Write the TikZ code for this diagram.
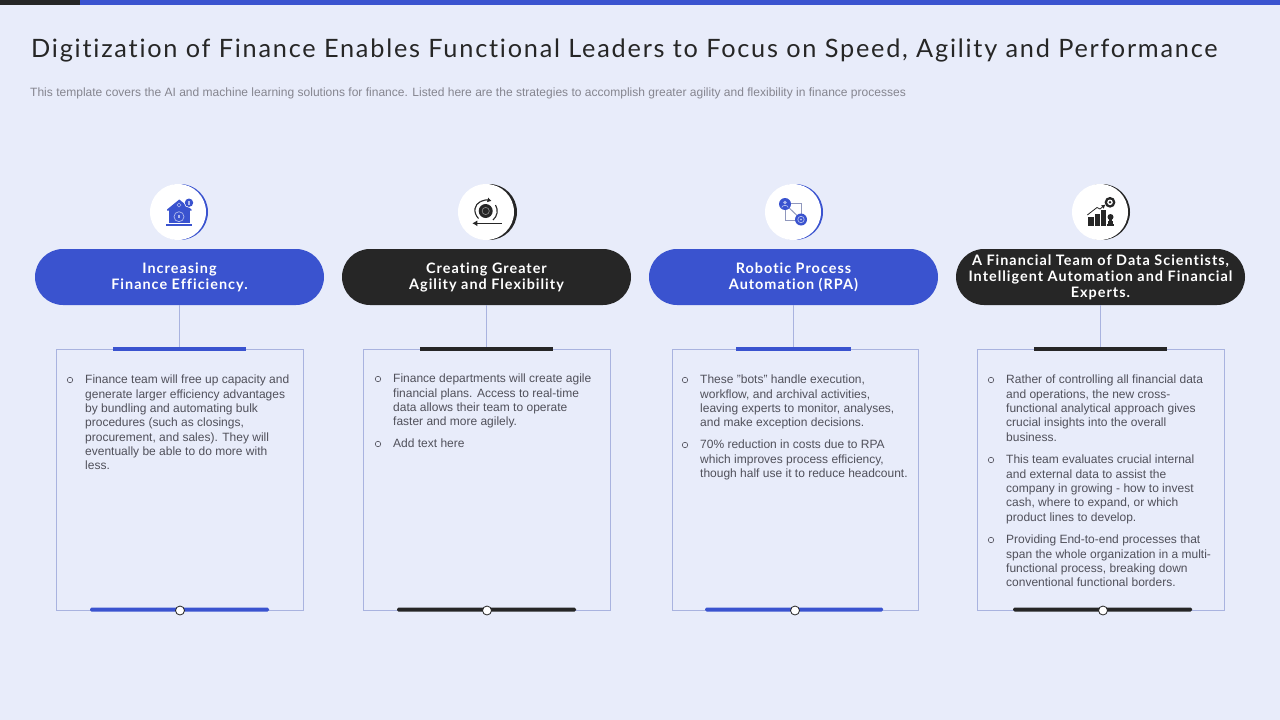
\documentclass[tikz,border=0pt]{standalone}
\usepackage{fontspec}
\setmainfont{Liberation Sans}
\newfontfamily\titlefont[LetterSpace=7,Ligatures=NoCommon]{Lato}
\newfontfamily\headfont[LetterSpace=7,Ligatures=NoCommon]{Lato Bold}
\definecolor{bgc}{HTML}{E8ECFA}
\definecolor{bluec}{HTML}{3A53CF}
\definecolor{darkc}{HTML}{262626}
\definecolor{linec}{HTML}{A9B3DF}
\definecolor{textc}{HTML}{50505A}
\definecolor{subc}{HTML}{85858F}
\usetikzlibrary{arrows.meta}
\tikzset{x=1pt,y=-1pt,
 pill/.style={rounded corners=28pt,minimum width=289pt,minimum height=56pt,inner sep=0pt,align=center,text=white,
   font=\headfont\fontsize{14.4}{16}\selectfont},
 card/.style={draw=linec,line width=.7pt,fill=none,inner sep=0pt,anchor=north west},
 conn/.style={draw=linec,line width=.8pt},
 bar/.style={inner sep=0pt,minimum height=4pt},
 knob/.style={circle,draw=darkc,fill=white,line width=.8pt,minimum size=9pt,inner sep=0pt},
 bodytxt/.style={inner sep=0pt,anchor=north west,align=left,text=textc,font=\fontsize{12}{14.3}\selectfont},
 bul/.style={circle,draw=textc,line width=.6pt,minimum size=5.5pt,inner sep=0pt},
 disc/.style={circle,fill=white,minimum size=56pt,inner sep=0pt},
 disb/.style={circle,minimum size=56pt,inner sep=0pt},
}
\begin{document}
\begin{tikzpicture}
\useasboundingbox (0,0) rectangle (1280,720);
\fill[bgc] (0,0) rectangle (1280,720);
\fill[bluec] (80,0) rectangle (1280,5);
\fill[darkc] (0,0) rectangle (80,5);
\node[anchor=base west,inner sep=0pt,text=darkc,font=\titlefont\fontsize{25.3}{28}\selectfont] (title) at (31,57) {Digitization of Finance Enables Functional Leaders to Focus on Speed, Agility and Performance};
\node[anchor=base west,inner sep=0pt,text=subc,font=\fontsize{12.03}{14}\selectfont] (sub) at (30,96) {This template covers the AI  and machine learning solutions for finance. Listed here are the strategies to accomplish greater agility and flexibility in finance processes};

% discs
\node[disb,fill=bluec] (d1b) at (180,212) {}; \node[disc] (d1) at (178,212) {};
\node[disb,fill=darkc] (d2b) at (489,212) {}; \node[disc] (d2) at (486,212) {};
\node[disb,fill=bluec] (d3b) at (795,212) {}; \node[disc] (d3) at (793,212) {};
\node[disb,fill=darkc] (d4b) at (1102,212) {}; \node[disc] (d4) at (1100,212) {};

% pills
\node[pill,fill=bluec] (p1) at (179.5,277) {\raisebox{-1pt}{\parbox{280pt}{\centering Increasing\\Finance Efficiency.}}};
\node[pill,fill=darkc] (p2) at (486.5,277) {\raisebox{-1pt}{\parbox{280pt}{\centering Creating Greater\\Agility and Flexibility}}};
\node[pill,fill=bluec] (p3) at (793.5,277) {\raisebox{-1pt}{\parbox{280pt}{\centering Robotic Process\\Automation (RPA)}}};
\node[pill,fill=darkc] (p4) at (1100.5,277) {\raisebox{-1pt}{\parbox{285pt}{\centering A Financial Team of Data Scientists,\\Intelligent Automation and Financial\\Experts.}}};

% cards
\node[card,minimum width=247pt,minimum height=261pt] (c1) at (56,349) {};
\node[card,minimum width=247pt,minimum height=261pt] (c2) at (363,349) {};
\node[card,minimum width=246pt,minimum height=261pt] (c3) at (672,349) {};
\node[card,minimum width=247pt,minimum height=261pt] (c4) at (977,349) {};

% top bars
\node[bar,fill=bluec,minimum width=133pt] (t1) at (179.5,349) {};
\node[bar,fill=darkc,minimum width=133pt] (t2) at (486.5,349) {};
\node[bar,fill=bluec,minimum width=115pt] (t3) at (793.5,349) {};
\node[bar,fill=darkc,minimum width=133pt] (t4) at (1100.5,349) {};
\draw[conn] (p1.south) -- (t1.north);
\draw[conn] (p2.south) -- (t2.north);
\draw[conn] (p3.south) -- (t3.north);
\draw[conn] (p4.south) -- (t4.north);

% bottom bars
\node[bar,fill=bluec,minimum width=179pt,rounded corners=1.5pt] (b1) at (179.5,609.5) {};
\node[bar,fill=darkc,minimum width=179pt,rounded corners=1.5pt] (b2) at (486.5,609.5) {};
\node[bar,fill=bluec,minimum width=178pt,rounded corners=1.5pt] (b3) at (794,609.5) {};
\node[bar,fill=darkc,minimum width=179pt,rounded corners=1.5pt] (b4) at (1102.5,609.5) {};
\node[knob] (k1) at (180,610.5) {};
\node[knob] (k2) at (487,610.5) {};
\node[knob] (k3) at (795,610.5) {};
\node[knob] (k4) at (1103,610.5) {};

% card text
\node[bul] (u11) at (70,380) {};
\node[bodytxt] (x11) at (85,375) {Finance team will free up capacity and\\generate larger efficiency advantages\\by bundling and automating bulk\\procedures (such as closings,\\procurement, and sales). They will\\eventually be able to do more with\\less.};

\node[bul] (u21) at (378,379) {};
\node[bodytxt] (x21) at (393,374) {Finance departments will create agile\\financial plans. Access to real-time\\data allows their team to operate\\faster and more agilely.};
\node[bul] (u22) at (378,444) {};
\node[bodytxt] (x22) at (393,439) {Add text here};

\node[bul] (u31) at (685,380) {};
\node[bodytxt] (x31) at (700,375) {These "bots" handle execution,\\workflow, and archival activities,\\leaving experts to monitor, analyses,\\and make exception decisions.};
\node[bul] (u32) at (685,445) {};
\node[bodytxt] (x32) at (700,440) {70\% reduction in costs due to RPA\\which improves process efficiency,\\though half use it to reduce headcount.};

\node[bul] (u41) at (991,380) {};
\node[bodytxt] (x41) at (1006,375) {Rather of controlling all financial data\\and operations, the new cross-\\functional analytical approach gives\\crucial insights into the overall\\business.};
\node[bul] (u42) at (991,460) {};
\node[bodytxt] (x42) at (1006,455) {This team evaluates crucial internal\\and external data to assist the\\company in growing - how to invest\\cash, where to expand, or which\\product lines to develop.};
\node[bul] (u43) at (991,540) {};
\node[bodytxt] (x43) at (1006,535) {Providing End-to-end processes that\\span the whole organization in a multi-\\functional process, breaking down\\conventional functional borders.};

% icon 1: bank
\fill[bluec] (179.3,199.5) -- (191.5,209.5) -- (191.5,210.5) -- (167,210.5) -- (167,209.5) -- cycle;
\fill[bluec] (168.5,210) rectangle (189.5,223);
\fill[bluec] (166,223.8) rectangle (191.7,225.8);
\draw[white!60!bluec,line width=.7pt] (179,216.7) circle (5);
\fill[white!60!bluec] (177.7,215.2) rectangle (180.3,218.2);
\draw[white!60!bluec,line width=.5pt] (179,203) -- (181,205) -- (179,207) -- (177,205) -- cycle;
\fill[white] (189,202.7) circle (5);
\fill[bluec] (189,202.7) circle (4.2);
\fill[white!60!bluec] (188.2,200.5) rectangle (189.8,204.9);

% icon 2: gears and arrow
\fill[darkc] (485.7,211) circle (7);
\draw[white!50!darkc,line width=.6pt] (485.7,211) circle (3.6);
\draw[darkc,line width=1.1pt] (478.5,218.5) .. controls (472.5,212) and (474.5,204.5) .. (480.5,201.5);
\draw[darkc,line width=1.1pt,-{Latex[length=4pt,width=5pt]}] (480.5,201.5) .. controls (483.5,200) and (487,199.7) .. (491.5,201);
\draw[darkc,line width=1.1pt] (495.5,205) .. controls (498.5,210) and (497.5,216) .. (493,220);
\coordinate (arr2s) at (501.7,223.3);
\coordinate (arr2e) at (472.3,223.3);
\draw[darkc,line width=1.1pt,-{Latex[length=5pt,width=6pt]}] (arr2s) -- (arr2e);

% icon 3: network
\draw[linec!85!black,line width=1pt] (785,203.5) rectangle (801.7,220);
\draw[linec!85!black,line width=1pt] (785,204) -- (801,219.3);
\fill[bluec] (785,204) circle (6);
\fill[bluec] (801,219.5) circle (6);
\fill[white!60!bluec] (785,202.5) circle (1.8);
\draw[white!60!bluec,line width=.7pt] (781.8,207.5) .. controls (782.3,204.7) and (787.7,204.7) .. (788.2,207.5);
\draw[white!60!bluec,line width=.7pt] (801,219.5) circle (3.2);
\fill[white!60!bluec] (801,219.5) circle (1.1);

% icon 4: growth chart
\fill[darkc] (1088.3,216.7) rectangle (1094.2,226);
\fill[darkc] (1094.8,213.5) rectangle (1100,226);
\fill[darkc] (1100.6,210) rectangle (1106,226);
\fill[darkc] (1106.5,223.5) rectangle (1114,226);
\fill[darkc] (1108,220.5) rectangle (1112.8,223.5);
\fill[darkc] (1109,218.5) rectangle (1112,221.5);
\fill[darkc] (1110.5,217) circle (3);
\draw[darkc,line width=.8pt,-{Latex[length=4pt,width=4.5pt]}] (1087.3,215) -- (1097,207.5) -- (1100,209) -- (1105.5,204.5);
\fill[darkc] (1110,202.3) circle (5.4);
\fill[white] (1110,202.3) circle (2.8);
\fill[darkc] (1110,202.3) circle (1.4);
\end{tikzpicture}
\end{document}
